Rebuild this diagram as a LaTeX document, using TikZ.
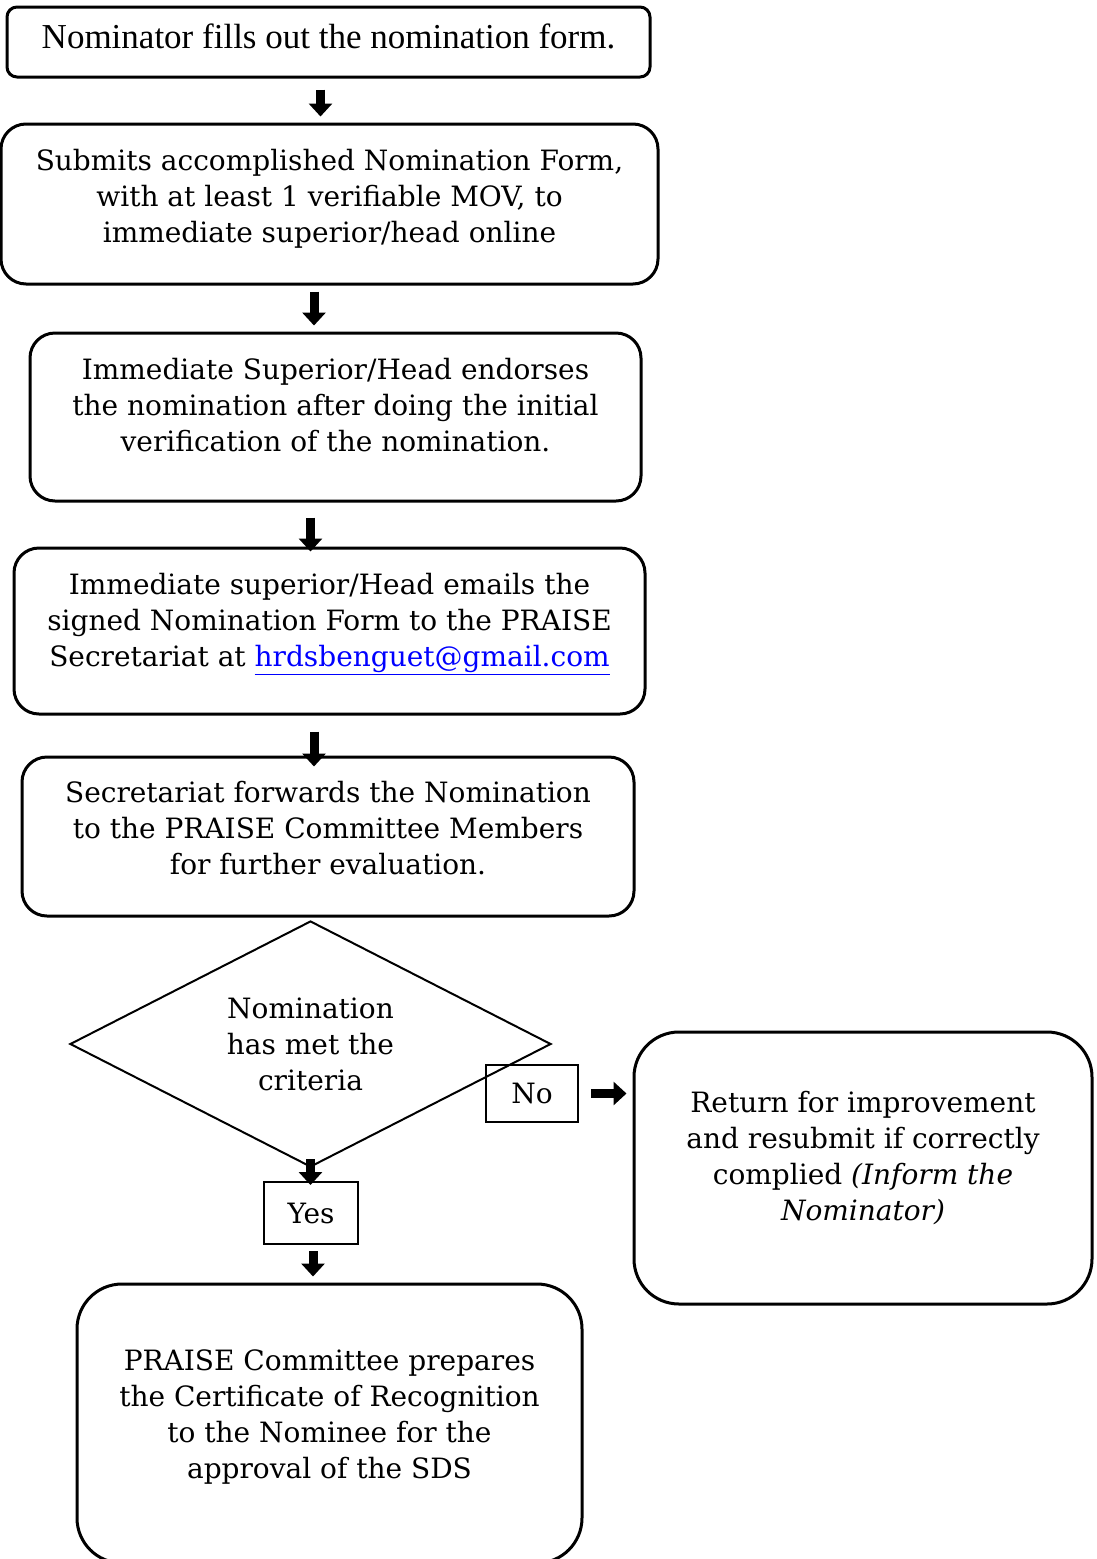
\documentclass[tikz,border=0pt]{standalone}
\usepackage{fontspec}
\setmainfont{DejaVu Serif}
\newfontfamily\narrowserif{Liberation Serif}
\usetikzlibrary{shapes.geometric,arrows.meta}

\tikzset{
  stepbox/.style={draw, line width=3pt, rounded corners=25pt, align=center,
    inner sep=0pt, font=\fontsize{28}{36}\selectfont},
  tagbox/.style={draw, line width=2pt, inner sep=0pt,
    font=\fontsize{28}{36}\selectfont},
  flow/.style={line width=9pt, -{Triangle[width=23pt,length=13pt]}}
}

\begin{document}
\begin{tikzpicture}[x=1pt,y=-1pt]
  \useasboundingbox (0,0) rectangle (1097,1559);

  % steps
  \node[stepbox, rounded corners=10pt, minimum width=643pt, minimum height=70pt,
    font=\narrowserif\fontsize{35}{36}\selectfont, text depth=12pt] (nom) at (328.5,42)
    {Nominator fills out the nomination form.};
  \node[stepbox, minimum width=657pt, minimum height=160pt, text depth=17pt] (sub) at (329.5,204)
    {Submits accomplished Nomination Form,\\ with at least 1 verifiable MOV, to\\ immediate superior/head online};
  \node[stepbox, minimum width=611pt, minimum height=168pt, text depth=25pt] (endo) at (335.5,417)
    {Immediate Superior/Head endorses\\ the nomination after doing the initial\\ verification of the nomination.};
  \node[stepbox, minimum width=631pt, minimum height=166pt, text depth=23pt] (mail) at (329.5,631)
    {Immediate superior/Head emails the\\ signed Nomination Form to the PRAISE\\ Secretariat at \textcolor{blue}{\underline{hrdsbenguet@gmail.com}}};
  \node[stepbox, minimum width=612pt, minimum height=159pt, text depth=17pt] (fwd) at (328,836.5)
    {Secretariat forwards the Nomination\\ to the PRAISE Committee Members\\ for further evaluation.};

  % decision
  \node[diamond, aspect=2, draw, line width=2pt, minimum width=481pt, minimum height=246pt,
    inner sep=0pt, align=center, font=\fontsize{28}{36}\selectfont] (crit) at (310.5,1044)
    {Nomination\\ has met the\\ criteria};
  \node[tagbox, minimum width=92pt, minimum height=57pt] (no) at (532,1093.5) {No};
  \node[tagbox, minimum width=94pt, minimum height=62pt] (yes) at (311,1213) {Yes};

  \node[stepbox, rounded corners=45pt, minimum width=458pt, minimum height=272pt, text depth=24pt] (ret) at (863,1168)
    {Return for improvement\\ and resubmit if correctly\\ complied \textit{(Inform the}\\ \textit{Nominator)}};
  \node[stepbox, rounded corners=45pt, minimum width=505pt, minimum height=279pt, text depth=19pt] (prep) at (329.5,1423.5)
    {PRAISE Committee prepares\\ the Certificate of Recognition\\ to the Nominee for the\\ approval of the SDS};

  % arrows
  \draw[flow, shorten <=11pt, shorten >=6pt] ([xshift=-8pt]nom.south) -- ([xshift=-8pt]nom.south |- sub.north);
  \draw[flow, shorten <=6pt, shorten >=6pt] ([xshift=-15.5pt]sub.south) -- ([xshift=-15.5pt]sub.south |- endo.north);
  \draw[flow, shorten <=15pt, shorten >=-5pt] ([xshift=-25pt]endo.south) -- ([xshift=-25pt]endo.south |- mail.north);
  \draw[flow, shorten <=16pt, shorten >=-11pt] ([xshift=-15.5pt]mail.south) -- ([xshift=-15.5pt]mail.south |- fwd.north);
  \draw[flow, shorten <=-9pt, shorten >=-4pt] (crit.south) -- (crit.south |- yes.north);
  \draw[flow, shorten <=6pt, shorten >=6pt] ([xshift=2pt]yes.south) -- ([xshift=2pt]yes.south |- prep.north);
  \draw[flow, shorten <=12pt, shorten >=6pt] (no.east) -- (no.east -| ret.west);

\end{tikzpicture}
\end{document}
